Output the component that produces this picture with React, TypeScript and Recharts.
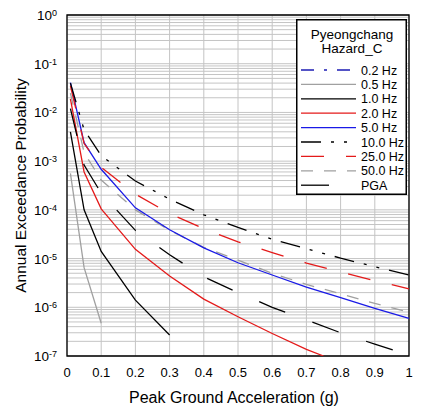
import { CartesianGrid, Legend, Line, LineChart, ReferenceArea, XAxis, YAxis } from 'recharts';

// x positions shared by most curves (g)
const accel = [0.01, 0.05, 0.1, 0.2, 0.3, 0.4, 0.5, 0.6, 0.7, 0.8, 0.9, 1.0];
const accelShort05 = [0.01, 0.05, 0.1];
const accelShort10 = [0.01, 0.05, 0.1, 0.2, 0.3];
const accel20 = [0.01, 0.05, 0.1, 0.2, 0.3, 0.4, 0.5, 0.6, 0.7, 0.75];

const hz05 = [5.6e-4, 6.5e-6, 4.7e-7];
const hz10 = [4.0e-3, 1.0e-4, 1.4e-5, 1.4e-6, 2.7e-7];
const hz20 = [1.9e-2, 6.0e-4, 1.05e-4, 1.55e-5, 4.4e-6, 1.47e-6, 6.4e-7, 2.9e-7, 1.37e-7, 1.0e-7];
const hz50 = [4.1e-2, 2.4e-3, 6.8e-4, 1.1e-4, 3.9e-5, 1.66e-5, 8.2e-6, 4.6e-6, 2.6e-6, 1.57e-6, 9.5e-7, 5.9e-7];
const hz100 = [4.0e-2, 4.4e-3, 1.3e-3, 3.9e-4, 1.66e-4, 7.9e-5, 4.35e-5, 2.5e-5, 1.6e-5, 1.02e-5, 6.8e-6, 4.6e-6];
const hz250 = [3.5e-2, 2.3e-3, 7.5e-4, 2.1e-4, 8.4e-5, 4.1e-5, 2.2e-5, 1.33e-5, 8.1e-6, 5.3e-6, 3.5e-6, 2.4e-6];
const hz500 = [2.5e-2, 1.5e-3, 4.1e-4, 1.0e-4, 3.8e-5, 1.7e-5, 9.3e-6, 5.0e-6, 2.95e-6, 1.9e-6, 1.2e-6, 7.9e-7];
const pgaVals = [1.2e-2, 8.3e-4, 2.2e-4, 3.8e-5, 1.2e-5, 4.2e-6, 2.0e-6, 1.0e-6, 5.5e-7, 3.0e-7, 1.75e-7, 1.05e-7];

const legendNames = ['0.2 Hz', '0.5 Hz', '1.0 Hz', '2.0 Hz', '5.0 Hz', '10.0 Hz', '25.0 Hz', '50.0 Hz', 'PGA'];
const xTicks = [0, 0.1, 0.2, 0.3, 0.4, 0.5, 0.6, 0.7, 0.8, 0.9, 1];
const decades = [-7, -6, -5, -4, -3, -2, -1];
const mantissas = [1, 2, 3, 4, 5, 6, 7, 8, 9];

const yTicks = [...decades.flatMap((d) => mantissas.map((m) => m * Math.pow(10, d))), 1];

const toPoints = (xs: number[], ps: number[]) => xs.map((x, i) => ({ x, p: ps[i] }));

const FONT = '"Liberation Sans", Arial, sans-serif';

// line styles per legend entry
const styles: Record<string, { color: string; dash?: string; sample?: number }> = {
  '0.2 Hz': { color: '#1c1cb4', dash: '13 10 3 10' },
  '0.5 Hz': { color: '#a0a0a0' },
  '1.0 Hz': { color: '#000000' },
  '2.0 Hz': { color: '#e41a1a' },
  '5.0 Hz': { color: '#1a1ae6' },
  '10.0 Hz': { color: '#000000', dash: '20 10 3 10 3 10' },
  '25.0 Hz': { color: '#e41a1a', dash: '23 22' },
  '50.0 Hz': { color: '#a0a0a0', dash: '12 11' },
  PGA: { color: '#000000', dash: '28 29', sample: 29 },
};

const series = [
  { name: '0.5 Hz', data: toPoints(accelShort05, hz05) },
  { name: '1.0 Hz', data: toPoints(accelShort10, hz10) },
  { name: '2.0 Hz', data: toPoints(accel20, hz20) },
  { name: '50.0 Hz', data: toPoints(accel, hz500) },
  { name: '5.0 Hz', data: toPoints(accel, hz50) },
  { name: '25.0 Hz', data: toPoints(accel, hz250) },
  { name: '10.0 Hz', data: toPoints(accel, hz100) },
  { name: 'PGA', data: toPoints(accel, pgaVals) },
];

const PowerTick = (props: any) => {
  const { x, y, payload } = props;
  const lg = Math.log10(payload.value);
  const e = Math.round(lg);
  if (Math.abs(lg - e) > 1e-6) return <g />;
  return (
    <text x={x - 2} y={y + 5} textAnchor="end" fontSize={13.5} fill="#000" fontFamily={FONT}>
      <tspan>10</tspan>
      <tspan dy={-4} fontSize={9}>{e}</tspan>
    </text>
  );
};

const LegendBox = () => (
  <svg width={111} height={176} style={{ display: 'block' }}>
    <rect x={0.75} y={0.75} width={109.5} height={174.5} fill="#fff" stroke="#000" strokeWidth={1.5} />
    <text x={56} y={20} textAnchor="middle" fontSize={13.5} fontFamily={FONT}>Pyeongchang</text>
    <text x={56} y={34} textAnchor="middle" fontSize={13.5} fontFamily={FONT}>Hazard_C</text>
    {legendNames.map((n, i) => {
      const s = styles[n];
      const yy = 51 + i * 14.4;
      return (
        <g key={n}>
          <line x1={5} x2={5 + (s.sample ?? 55)} y1={yy} y2={yy} stroke={s.color} strokeWidth={1.3} strokeDasharray={s.dash} />
          <text x={65} y={yy + 4.5} fontSize={12.5} fontFamily={FONT}>{n}</text>
        </g>
      );
    })}
  </svg>
);

export default function App() {
  return (
    <LineChart width={417} height={400} margin={{ top: 7, right: 16, bottom: 0, left: 0 }}>
      <CartesianGrid stroke="#c4c4c4" strokeWidth={1} />
      <XAxis
        dataKey="x"
        type="number"
        domain={[0, 1]}
        ticks={xTicks}
        interval={0}
        height={52}
        axisLine={false}
        tickLine={false}
        tickMargin={6}
        tick={{ fontSize: 13, fill: '#000', fontFamily: FONT }}
        tickFormatter={(v: number) => String(Math.round(v * 10) / 10)}
        label={{ value: 'Peak Ground Acceleration (g)', position: 'insideBottom', offset: 5, dx: -4, style: { fontSize: 16, fill: '#000', fontFamily: FONT } }}
      />
      <YAxis
        dataKey="p"
        type="number"
        scale="log"
        domain={[1e-7, 1]}
        allowDataOverflow
        ticks={yTicks}
        interval={0}
        width={59}
        axisLine={false}
        tickLine={false}
        tick={<PowerTick />}
        label={(p: any) => {
          const vb = p.viewBox;
          const cx = vb.x + 12;
          const cy = vb.y + vb.height / 2;
          return (
            <text x={cx} y={cy} transform={`rotate(-90 ${cx} ${cy})`} textAnchor="middle" dominantBaseline="central" fontSize={15.5} fontFamily={FONT} fill="#000">
              Annual Exceedance Probability
            </text>
          );
        }}
      />
      <ReferenceArea x1={0} x2={1} y1={1e-7} y2={1} fill="none" stroke="#000" strokeWidth={1.3} />
      {series.map((s) => (
        <Line
          key={s.name}
          data={s.data}
          dataKey="p"
          name={s.name}
          type="linear"
          stroke={styles[s.name].color}
          strokeWidth={1.3}
          strokeDasharray={styles[s.name].dash}
          dot={false}
          activeDot={false}
          isAnimationActive={false}
        />
      ))}
      <Legend
        layout="vertical"
        align="center"
        verticalAlign="middle"
        content={() => <LegendBox />}
        wrapperStyle={{ position: 'absolute', left: 288, top: 11, width: 111, height: 176 }}
      />
    </LineChart>
  );
}
